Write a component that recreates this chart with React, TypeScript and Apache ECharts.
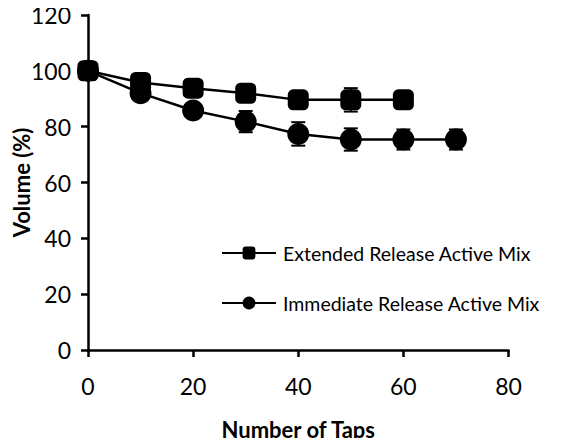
import React, { useEffect, useRef } from "react";
import * as echarts from "echarts";

const taps = [0, 10, 20, 30, 40, 50, 60, 70];
const extendedValues = [100, 95.8, 93.8, 92, 89.6, 89.6, 89.6];
const extendedErrors = [1, 1, 1.5, 1.5, 1.5, 4.2, 3];
const immediateValues = [100, 92, 85.8, 81.8, 77.4, 75.4, 75.4, 75.4];
const immediateErrors = [1, 1.5, 1.5, 3.8, 4.2, 4, 3.6, 3.6];
const xTicks = [0, 20, 40, 60, 80];
const yTicks = [0, 20, 40, 60, 80, 100, 120];

const FONT = "Lato";

function errorData(vals: number[], errs: number[]) {
  return vals.map((v, i) => [taps[i], v - errs[i], v + errs[i]]);
}

function errorSeries(vals: number[], errs: number[], z: number) {
  return {
    type: "custom",
    z,
    silent: true,
    data: errorData(vals, errs),
    encode: { x: 0, y: [1, 2] },
    renderItem: (params: any, api: any) => {
      const x = api.value(0);
      const lo = api.coord([x, api.value(1)]);
      const hi = api.coord([x, api.value(2)]);
      const w = 7;
      const style = { stroke: "#000", lineWidth: 2 };
      return {
        type: "group",
        children: [
          { type: "line", shape: { x1: lo[0], y1: lo[1], x2: hi[0], y2: hi[1] }, style },
          { type: "line", shape: { x1: lo[0] - w, y1: lo[1], x2: lo[0] + w, y2: lo[1] }, style },
          { type: "line", shape: { x1: hi[0] - w, y1: hi[1], x2: hi[0] + w, y2: hi[1] }, style },
        ],
      };
    },
  };
}

export default function App() {
  const ref = useRef<HTMLDivElement>(null);
  useEffect(() => {
    const chart = echarts.init(ref.current!, null, { renderer: "svg" });
    chart.setOption({
      animation: false,
      backgroundColor: "#fff",
      textStyle: { fontFamily: FONT },
      grid: {
        left: 88,
        right: 62.5,
        top: 15,
        bottom: 96,
        containLabel: false,
        outerBoundsMode: "none",
      },
      legend: {
        orient: "vertical",
        left: 221,
        top: 243,
        padding: 0,
        itemWidth: 54,
        itemHeight: 16,
        itemGap: 30,
        textStyle: { fontFamily: FONT, fontSize: 19.5, color: "#000", padding: [0, 0, 0, 2] },
        data: ["Extended Release Active Mix", "Immediate Release Active Mix"],
      },
      xAxis: {
        type: "value",
        min: 0,
        max: 80,
        interval: 20,
        name: "Number of Taps",
        nameLocation: "middle",
        nameGap: 68,
        nameMoveOverlap: false,
        nameTextStyle: { fontFamily: FONT, fontWeight: "bold", fontSize: 22, color: "#000" },
        splitLine: { show: false },
        axisLine: { show: true, onZero: false, lineStyle: { color: "#000", width: 2.5 } },
        axisTick: { show: true, length: 7, lineStyle: { color: "#000", width: 2.5 } },
        axisLabel: {
          margin: 24,
          fontFamily: FONT,
          fontSize: 23,
          color: "#000",
          customValues: xTicks,
        },
      },
      yAxis: {
        type: "value",
        min: 0,
        max: 120,
        interval: 20,
        name: "Volume (%)",
        nameLocation: "middle",
        nameGap: 56,
        nameMoveOverlap: false,
        nameRotate: 90,
        nameTextStyle: { fontFamily: FONT, fontWeight: "bold", fontSize: 22, color: "#000" },
        splitLine: { show: false },
        axisLine: { show: true, lineStyle: { color: "#000", width: 2.5 } },
        axisTick: { show: true, length: 7, lineStyle: { color: "#000", width: 2.5 } },
        axisLabel: {
          margin: 17,
          fontFamily: FONT,
          fontSize: 23,
          color: "#000",
          customValues: yTicks,
        },
      },
      series: [
        errorSeries(extendedValues, extendedErrors, 1),
        errorSeries(immediateValues, immediateErrors, 1),
        {
          name: "Immediate Release Active Mix",
          type: "line",
          z: 2,
          data: immediateValues.map((v, i) => [taps[i], v]),
          symbol: "circle",
          symbolSize: 22,
          lineStyle: { color: "#000", width: 2.5 },
          itemStyle: { color: "#000" },
        },
        {
          name: "Extended Release Active Mix",
          type: "line",
          z: 3,
          data: extendedValues.map((v, i) => [taps[i], v]),
          symbol: "roundRect",
          symbolSize: 21,
          lineStyle: { color: "#000", width: 2.5 },
          itemStyle: { color: "#000" },
        },
      ],
    });
    return () => chart.dispose();
  }, []);
  return <div ref={ref} style={{ width: 571, height: 446, margin: -8 }} />;
}
